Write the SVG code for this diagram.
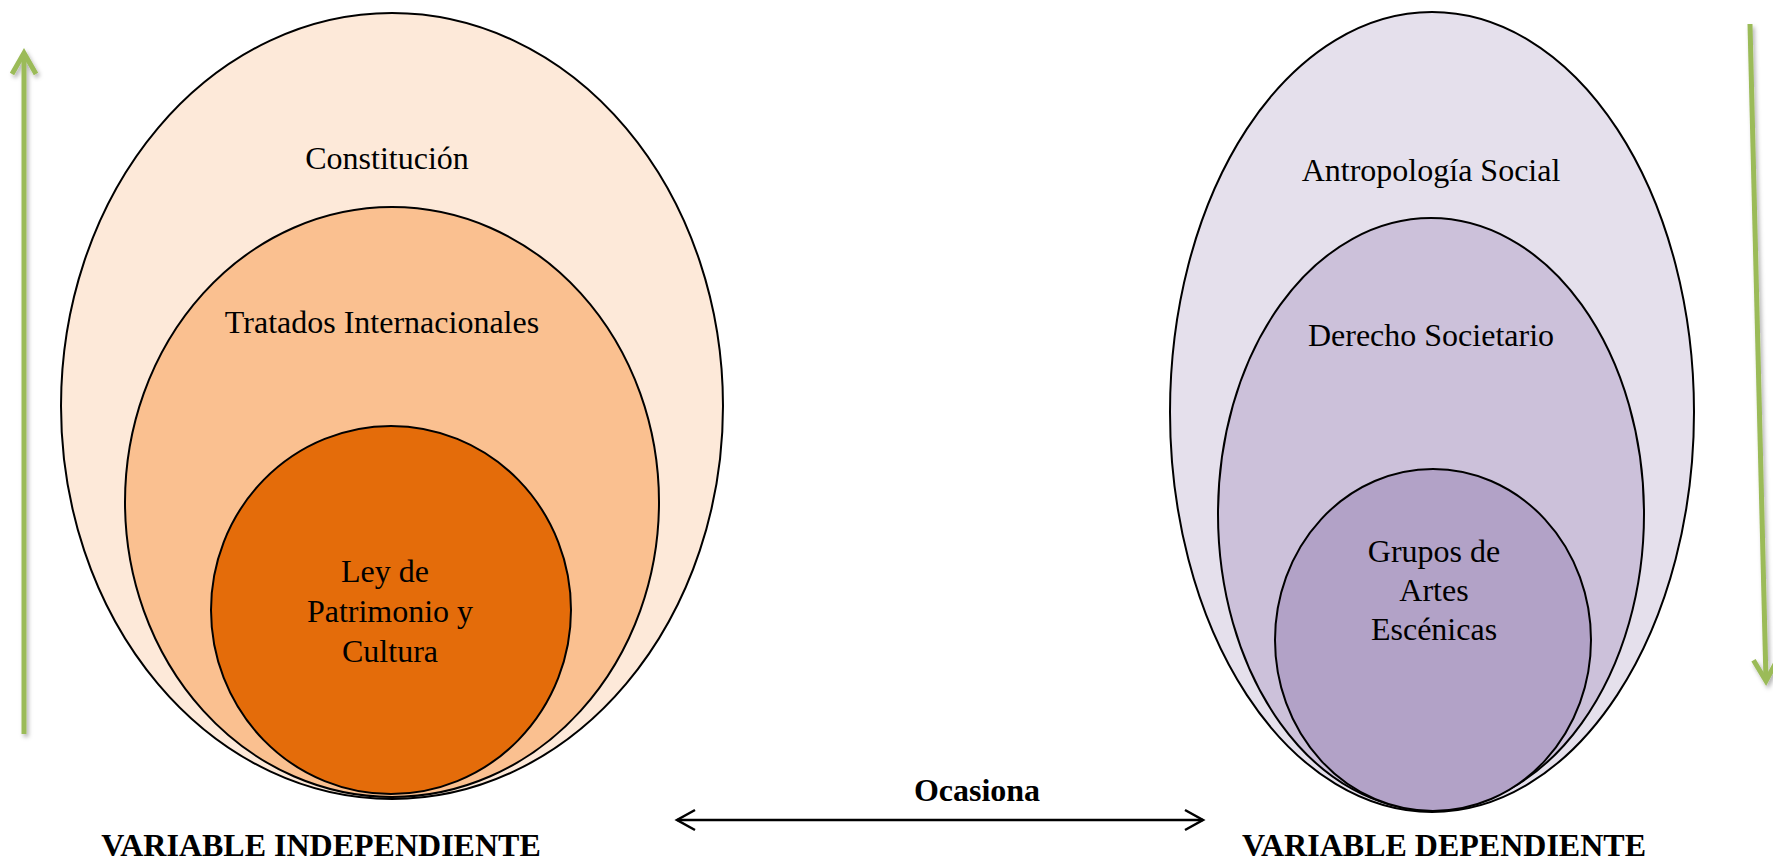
<svg xmlns="http://www.w3.org/2000/svg" width="1773" height="860" viewBox="0 0 1773 860">
<style>
.lbl{font-family:"Liberation Serif","Times New Roman",serif;font-size:32px;fill:#000;text-anchor:middle}
.bold{font-weight:bold}
.ring{stroke:#000;stroke-width:2}
.garrow{fill:none;stroke:#9BBB59;stroke-width:5;stroke-linecap:butt}
.barrow{fill:none;stroke:#000;stroke-width:2.5}
</style>
<defs>
<filter id="sh" filterUnits="userSpaceOnUse" x="0" y="0" width="1773" height="860">
<feDropShadow dx="2" dy="3" stdDeviation="2" flood-color="#000" flood-opacity="0.3"/>
</filter>
<marker id="gh" markerUnits="userSpaceOnUse" markerWidth="40" markerHeight="40" refX="0" refY="0" viewBox="-30 -20 40 40" orient="auto" overflow="visible">
<path d="M-21,-12 L0,0 L-21,12" fill="none" stroke="#9BBB59" stroke-width="5" stroke-linejoin="miter"/>
</marker>
<marker id="bh" markerUnits="userSpaceOnUse" markerWidth="30" markerHeight="30" refX="0" refY="0" viewBox="-25 -15 30 30" orient="auto-start-reverse" overflow="visible">
<path d="M-18,-10 L0,0 L-18,10" fill="none" stroke="#000" stroke-width="2.5"/>
</marker>
</defs>
<rect width="1773" height="860" fill="#fff"/>

<g id="constitucion">
<ellipse class="ring" cx="392" cy="406" rx="331" ry="393" fill="#FDE9D9"/>
<text class="lbl" x="387" y="169">Constitución</text>
</g>
<g id="tratados">
<ellipse class="ring" cx="392" cy="502" rx="267" ry="295" fill="#FAC090"/>
<text class="lbl" x="382" y="333">Tratados Internacionales</text>
</g>
<g id="ley">
<ellipse class="ring" cx="391" cy="610" rx="180" ry="184" fill="#E46C0A"/>
<text class="lbl" x="385" y="582">Ley de</text>
<text class="lbl" x="390" y="622">Patrimonio y</text>
<text class="lbl" x="390" y="662">Cultura</text>
</g>

<g id="antropologia">
<ellipse class="ring" cx="1432" cy="412" rx="262" ry="400" fill="#E5E0EC"/>
<text class="lbl" x="1431" y="181">Antropología Social</text>
</g>
<g id="derecho">
<ellipse class="ring" cx="1431" cy="514" rx="213" ry="296" fill="#CCC1DA"/>
<text class="lbl" x="1431" y="346">Derecho Societario</text>
</g>
<g id="grupos">
<ellipse class="ring" cx="1433" cy="640" rx="158" ry="171" fill="#B2A2C7"/>
<text class="lbl" x="1434" y="562">Grupos de</text>
<text class="lbl" x="1434" y="601">Artes</text>
<text class="lbl" x="1434" y="640">Escénicas</text>
</g>

<g id="labels">
<text class="lbl bold" x="321" y="856">VARIABLE INDEPENDIENTE</text>
<text class="lbl bold" x="1444" y="856">VARIABLE DEPENDIENTE</text>
<text class="lbl bold" x="977" y="801">Ocasiona</text>
</g>

<g id="connectors">
<line class="garrow" x1="24" y1="734" x2="24" y2="53" marker-end="url(#gh)" filter="url(#sh)"/>
<line class="garrow" x1="1750" y1="24" x2="1766" y2="681" marker-end="url(#gh)" filter="url(#sh)"/>
<line class="barrow" x1="677" y1="820" x2="1203" y2="820" marker-start="url(#bh)" marker-end="url(#bh)"/>
</g>
</svg>
